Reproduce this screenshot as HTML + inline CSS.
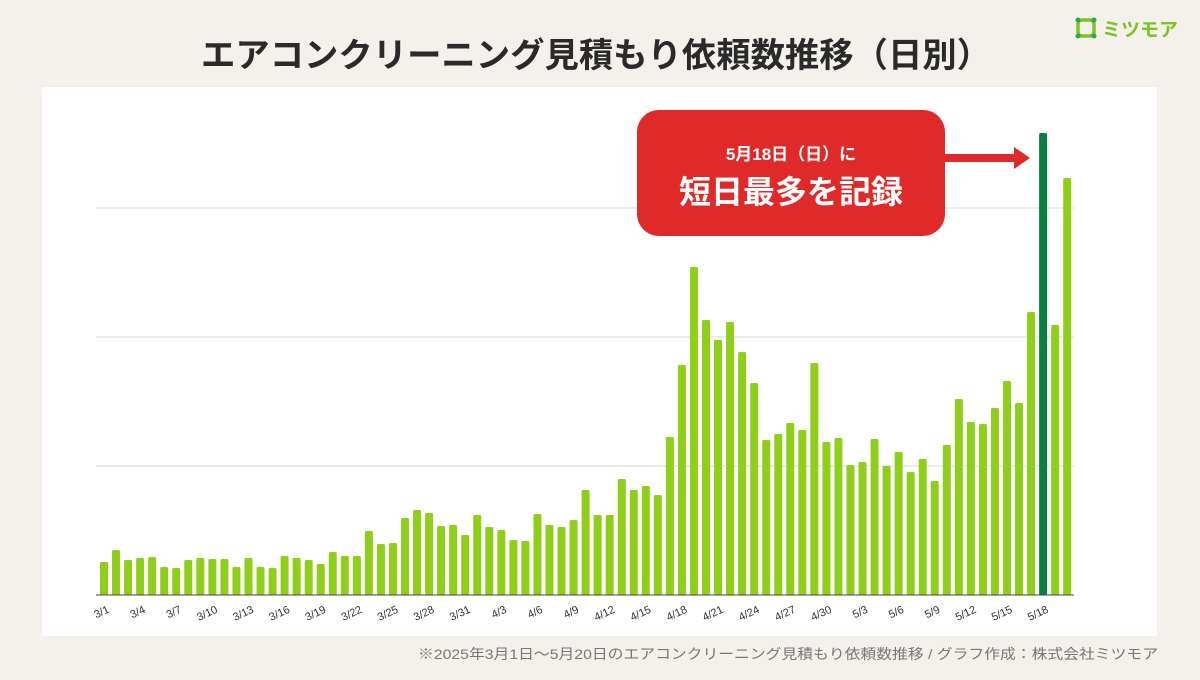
<!DOCTYPE html>
<html><head><meta charset="utf-8"><style>
body{margin:0;width:1200px;height:675px;background:#f4f1ec;overflow:hidden;font-family:"Liberation Sans","Noto Sans CJK JP",sans-serif}
</style></head><body>
<svg width="1200" height="675" xmlns="http://www.w3.org/2000/svg" font-family="'Liberation Sans','Noto Sans CJK JP',sans-serif">
<rect x="0" y="0" width="1200" height="675" fill="#f4f1ec"/>
<text x="596" y="67" text-anchor="middle" font-size="34" font-weight="bold" fill="#2a2a2a" textLength="790" lengthAdjust="spacingAndGlyphs">エアコンクリーニング見積もり依頼数推移（日別）</text>
<g transform="translate(1076,18)">
<rect x="2" y="2" width="16" height="16" rx="4" fill="none" stroke="#7cc520" stroke-width="3.5"/>
<circle cx="2" cy="2" r="2.5" fill="#2aa84a"/><circle cx="18" cy="2" r="2.5" fill="#2aa84a"/><circle cx="2" cy="18" r="2.5" fill="#2aa84a"/><circle cx="18" cy="18" r="2.5" fill="#2aa84a"/>
</g>
<text x="1102" y="36" font-size="19" font-weight="bold" fill="#7cc520">ミツモア</text>
<rect x="42" y="87" width="1115" height="549" fill="#ffffff"/>
<g stroke="#d9d9d9" stroke-width="1">
<line x1="96" y1="208" x2="1074" y2="208"/><line x1="96" y1="337" x2="1074" y2="337"/><line x1="96" y1="466" x2="1074" y2="466"/>
</g>
<g id="bars"></g>
<line x1="96" y1="595" x2="1074" y2="595" stroke="#444" stroke-width="1"/>
<g id="labels" font-size="11" fill="#333"></g>
<rect x="637" y="110" width="308" height="126" rx="22" fill="#e02a2a"/>
<text x="791" y="160" text-anchor="middle" font-size="17" font-weight="bold" fill="#fff">5月18日（日）に</text>
<text x="791" y="203" text-anchor="middle" font-size="32" font-weight="bold" fill="#fff">短日最多を記録</text>
<rect x="944" y="154" width="72" height="8" fill="#e02a2a"/>
<polygon points="1014,147 1030,158 1014,169" fill="#e02a2a"/>
<text x="1158" y="659" text-anchor="end" font-size="14" fill="#777" textLength="740" lengthAdjust="spacingAndGlyphs">※2025年3月1日〜5月20日のエアコンクリーニング見積もり依頼数推移 / グラフ作成：株式会社ミツモア</text>
</svg>
<script>
var tops=[562,550,560,558,557,567,568,560,558,559,559,567,558,567,568,556,558,560,564,552,556,556,531,544,543,518,510,513,526,525,535,515,527,530,540,541,514,525,527,520,490,515,515,479,490,486,495,437,365,267,320,340,322,352,383,440,434,423,430,363,442,438,465,462,439,466,452,472,459,481,445,399,422,424,408,381,403,312,133,325,178];
var ns="http://www.w3.org/2000/svg",g=document.getElementById("bars"),L=document.getElementById("labels");
var days=[];for(var d=1;d<=31;d++)days.push("3/"+d);for(d=1;d<=30;d++)days.push("4/"+d);for(d=1;d<=20;d++)days.push("5/"+d);
for(var i=0;i<tops.length;i++){var cx=104+i*12.04;var r=document.createElementNS(ns,"rect");
r.setAttribute("x",cx-4);r.setAttribute("y",tops[i]);r.setAttribute("width",8);r.setAttribute("height",595-tops[i]);r.setAttribute("rx",1.5);
r.setAttribute("fill",i==78?"#0a8040":"#8fcf1a");g.appendChild(r);
if(i%3==0){var t=document.createElementNS(ns,"text");t.setAttribute("x",cx+6);t.setAttribute("y",612);t.setAttribute("text-anchor","end");
t.setAttribute("transform","rotate(-25 "+(cx+6)+" 612)");t.textContent=days[i];L.appendChild(t);}}
</script>
</body></html>
